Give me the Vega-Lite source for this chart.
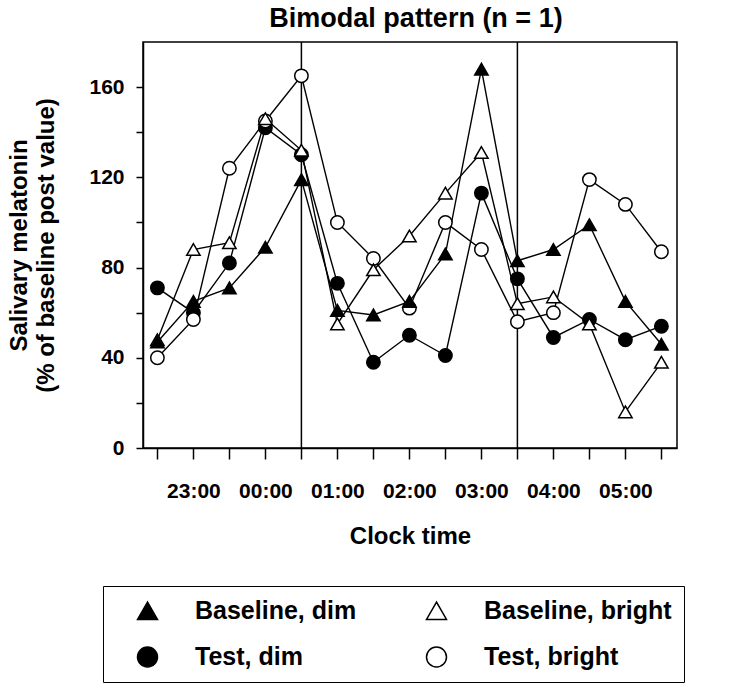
{
  "$schema": "https://vega.github.io/schema/vega-lite/v6.json",
  "width": 534,
  "height": 406,
  "autosize": {"type": "none"},
  "padding": {"left": 143, "top": 42, "right": 52, "bottom": 241},
  "background": "white",
  "title": {"text": "Bimodal pattern (n = 1)", "font": "Liberation Sans", "fontSize": 27, "fontWeight": "bold", "color": "black", "anchor": "middle", "offset": 8, "dx": 6},
  "config": {
    "view": {"stroke": "black", "strokeWidth": 1.5},
    "axis": {"domainColor": "black", "domainWidth": 1.5, "tickColor": "black", "tickWidth": 1.5, "labelColor": "black", "titleColor": "black", "labelFont": "Liberation Sans", "titleFont": "Liberation Sans", "labelFontWeight": "bold", "titleFontWeight": "bold", "grid": false}
  },
  "data": {"values": [
    {"time": "2000-01-01T22:30", "series": "Test, dim", "value": 71},
    {"time": "2000-01-01T23:00", "series": "Test, dim", "value": 60},
    {"time": "2000-01-01T23:30", "series": "Test, dim", "value": 82},
    {"time": "2000-01-02T00:00", "series": "Test, dim", "value": 142},
    {"time": "2000-01-02T00:30", "series": "Test, dim", "value": 130},
    {"time": "2000-01-02T01:00", "series": "Test, dim", "value": 73},
    {"time": "2000-01-02T01:30", "series": "Test, dim", "value": 38},
    {"time": "2000-01-02T02:00", "series": "Test, dim", "value": 50},
    {"time": "2000-01-02T02:30", "series": "Test, dim", "value": 41},
    {"time": "2000-01-02T03:00", "series": "Test, dim", "value": 113},
    {"time": "2000-01-02T03:30", "series": "Test, dim", "value": 75},
    {"time": "2000-01-02T04:00", "series": "Test, dim", "value": 49},
    {"time": "2000-01-02T04:30", "series": "Test, dim", "value": 57},
    {"time": "2000-01-02T05:00", "series": "Test, dim", "value": 48},
    {"time": "2000-01-02T05:30", "series": "Test, dim", "value": 54},
    {"time": "2000-01-01T22:30", "series": "Test, bright", "value": 40},
    {"time": "2000-01-01T23:00", "series": "Test, bright", "value": 57},
    {"time": "2000-01-01T23:30", "series": "Test, bright", "value": 124},
    {"time": "2000-01-02T00:00", "series": "Test, bright", "value": 145},
    {"time": "2000-01-02T00:30", "series": "Test, bright", "value": 165},
    {"time": "2000-01-02T01:00", "series": "Test, bright", "value": 100},
    {"time": "2000-01-02T01:30", "series": "Test, bright", "value": 84},
    {"time": "2000-01-02T02:00", "series": "Test, bright", "value": 62},
    {"time": "2000-01-02T02:30", "series": "Test, bright", "value": 100},
    {"time": "2000-01-02T03:00", "series": "Test, bright", "value": 88},
    {"time": "2000-01-02T03:30", "series": "Test, bright", "value": 56},
    {"time": "2000-01-02T04:00", "series": "Test, bright", "value": 60},
    {"time": "2000-01-02T04:30", "series": "Test, bright", "value": 119},
    {"time": "2000-01-02T05:00", "series": "Test, bright", "value": 108},
    {"time": "2000-01-02T05:30", "series": "Test, bright", "value": 87},
    {"time": "2000-01-01T22:30", "series": "Baseline, bright", "value": 48},
    {"time": "2000-01-01T23:00", "series": "Baseline, bright", "value": 88},
    {"time": "2000-01-01T23:30", "series": "Baseline, bright", "value": 91},
    {"time": "2000-01-02T00:00", "series": "Baseline, bright", "value": 146},
    {"time": "2000-01-02T00:30", "series": "Baseline, bright", "value": 132},
    {"time": "2000-01-02T01:00", "series": "Baseline, bright", "value": 55},
    {"time": "2000-01-02T01:30", "series": "Baseline, bright", "value": 79},
    {"time": "2000-01-02T02:00", "series": "Baseline, bright", "value": 94},
    {"time": "2000-01-02T02:30", "series": "Baseline, bright", "value": 113},
    {"time": "2000-01-02T03:00", "series": "Baseline, bright", "value": 131},
    {"time": "2000-01-02T03:30", "series": "Baseline, bright", "value": 64},
    {"time": "2000-01-02T04:00", "series": "Baseline, bright", "value": 67},
    {"time": "2000-01-02T04:30", "series": "Baseline, bright", "value": 55},
    {"time": "2000-01-02T05:00", "series": "Baseline, bright", "value": 16},
    {"time": "2000-01-02T05:30", "series": "Baseline, bright", "value": 38},
    {"time": "2000-01-01T22:30", "series": "Baseline, dim", "value": 47},
    {"time": "2000-01-01T23:00", "series": "Baseline, dim", "value": 65},
    {"time": "2000-01-01T23:30", "series": "Baseline, dim", "value": 71},
    {"time": "2000-01-02T00:00", "series": "Baseline, dim", "value": 89},
    {"time": "2000-01-02T00:30", "series": "Baseline, dim", "value": 119},
    {"time": "2000-01-02T01:00", "series": "Baseline, dim", "value": 61},
    {"time": "2000-01-02T01:30", "series": "Baseline, dim", "value": 59},
    {"time": "2000-01-02T02:00", "series": "Baseline, dim", "value": 65},
    {"time": "2000-01-02T02:30", "series": "Baseline, dim", "value": 86},
    {"time": "2000-01-02T03:00", "series": "Baseline, dim", "value": 168},
    {"time": "2000-01-02T03:30", "series": "Baseline, dim", "value": 83},
    {"time": "2000-01-02T04:00", "series": "Baseline, dim", "value": 88},
    {"time": "2000-01-02T04:30", "series": "Baseline, dim", "value": 99},
    {"time": "2000-01-02T05:00", "series": "Baseline, dim", "value": 65},
    {"time": "2000-01-02T05:30", "series": "Baseline, dim", "value": 46}
  ]},
  "layer": [
    {
      "mark": {"type": "line", "color": "black", "strokeWidth": 1.4},
      "encoding": {
        "x": {
          "field": "time", "type": "temporal",
          "scale": {"domain": ["2000-01-01T22:18", "2000-01-02T05:43"], "nice": false},
          "axis": {"title": "Clock time", "format": "%H:%M", "labelExpr": "slice(datum.label, 3) === '00' ? datum.label : ''", "labelFontSize": 21, "tickSize": 11, "labelPadding": 21, "labelFlush": false, "labelOverlap": false, "titleFontSize": 24, "titlePadding": 23}
        },
        "y": {
          "field": "value", "type": "quantitative",
          "scale": {"domain": [0, 180], "nice": false},
          "axis": {"title": ["Salivary melatonin", "(% of baseline post value)"], "values": [0, 20, 40, 60, 80, 100, 120, 140, 160], "labelExpr": "datum.value % 40 === 0 ? datum.label : ''", "labelFontSize": 21, "tickSize": 7, "labelPadding": 12, "titleFontSize": 24, "titleLineHeight": 27, "titlePadding": 30}
        },
        "detail": {"field": "series"}
      }
    },
    {
      "data": {"values": [{"time": "2000-01-02T00:30"}, {"time": "2000-01-02T03:30"}]},
      "mark": {"type": "rule", "color": "black", "strokeWidth": 1.5},
      "encoding": {"x": {"field": "time", "type": "temporal"}}
    },
    {
      "mark": {"type": "point", "filled": true, "stroke": "black", "strokeWidth": 1.5, "size": 180, "opacity": 1},
      "encoding": {
        "x": {"field": "time", "type": "temporal"},
        "y": {"field": "value", "type": "quantitative"},
        "shape": {"field": "series", "type": "nominal",
          "scale": {"domain": ["Baseline, dim", "Test, dim", "Baseline, bright", "Test, bright"], "range": ["triangle-up", "circle", "triangle-up", "circle"]},
          "legend": {
            "orient": "none", "legendX": -40, "legendY": 544, "columns": 2, "title": null, "gridAlign": "each",
            "symbolSize": 400, "symbolOffset": 20, "labelOffset": 35, "labelFont": "Liberation Sans", "labelFontSize": 25, "labelFontWeight": "bold", "labelColor": "black", "labelLimit": 400,
            "strokeColor": "black", "padding": 12, "rowPadding": 19.5, "columnPadding": 47,
            "symbolStrokeColor": "black", "symbolStrokeWidth": 1.5,
            "encoding": {
              "symbols": {
                "stroke": {"value": "black"},
                "strokeWidth": {"value": 1.5}
              }
            }
          }
        },
        "fill": {"field": "series", "type": "nominal",
          "scale": {"domain": ["Baseline, dim", "Test, dim", "Baseline, bright", "Test, bright"], "range": ["black", "black", "white", "white"]}}
      }
    }
  ]
}
